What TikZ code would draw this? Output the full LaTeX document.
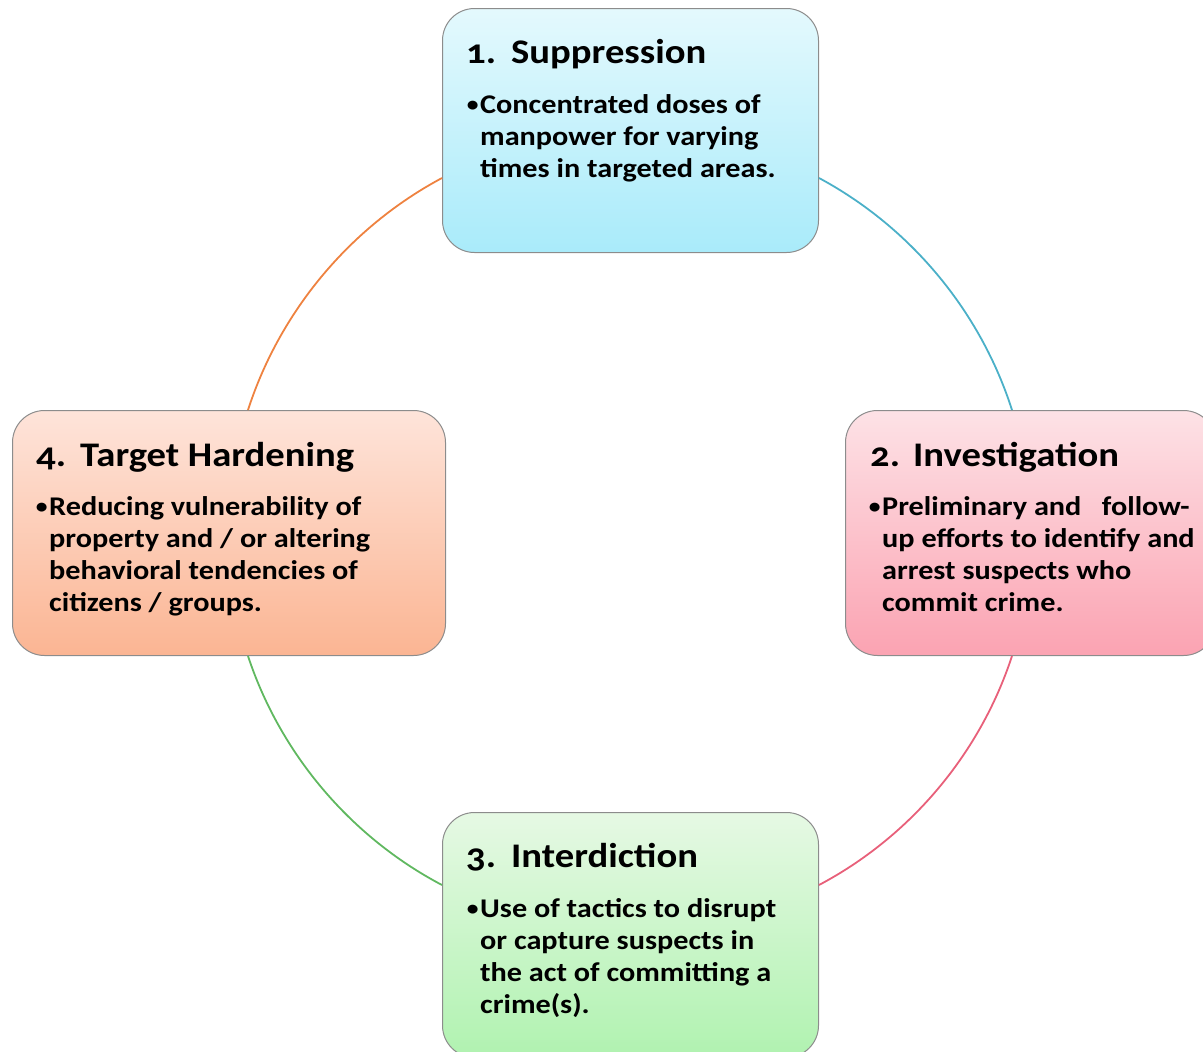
\documentclass[tikz,border=0pt]{standalone}
\usepackage{fontspec}
\setmainfont{Carlito}[FakeStretch=1.12]
\newfontfamily\oldnum{Carlito}[FakeStretch=1.12,Numbers=OldStyle]
\usetikzlibrary{calc}
\definecolor{cardline}{HTML}{8C8C8C}
\definecolor{supTop}{HTML}{E4F9FD}
\definecolor{supBot}{HTML}{A9EBFA}
\definecolor{invTop}{HTML}{FDE2E6}
\definecolor{invBot}{HTML}{FBA3B2}
\definecolor{tgtTop}{HTML}{FEE4DA}
\definecolor{tgtBot}{HTML}{FBB593}
\definecolor{intTop}{HTML}{E6F9E4}
\definecolor{intBot}{HTML}{B0F2B0}
\definecolor{arcOr}{HTML}{EE8240}
\definecolor{arcTe}{HTML}{4BB0C8}
\definecolor{arcRe}{HTML}{E8607A}
\definecolor{arcGr}{HTML}{60B860}
\newcommand{\mybul}{\llap{\raisebox{2pt}{\fontsize{21}{21}\selectfont •}\hspace{1.5pt}}}
\newcommand{\numlab}[2]{\makebox[#1][l]{\oldnum\bfseries #2}}
\begin{document}
\begin{tikzpicture}[x=1pt,y=1pt,
 card/.style={draw=cardline, line width=1pt, rounded corners=32pt, anchor=north west, inner sep=0pt},
 ttl/.style={anchor=base west, inner sep=0pt, font=\bfseries\fontsize{34.5}{40}\selectfont},
 txt/.style={anchor=base west, inner sep=0pt, align=left, font=\bfseries\fontsize{27}{32}\selectfont},
 link/.style={line width=1.8pt, looseness=0.88}]
\clip (0,0) rectangle (1203,-1052);
% boxes
\node[card, minimum width=376pt, minimum height=244pt, top color=supTop, bottom color=supBot] (sup) at (442,-8) {};
\node[card, minimum width=370pt, minimum height=245pt, top color=invTop, bottom color=invBot] (inv) at (845,-410) {};
\node[card, minimum width=376pt, minimum height=245pt, top color=intTop, bottom color=intBot] (int) at (442,-812) {};
\node[card, minimum width=433pt, minimum height=245pt, top color=tgtTop, bottom color=tgtBot] (tgt) at (12,-410) {};
% arc end points
\coordinate (a1) at ($(sup.north west)+(0,-170)$);
\coordinate (a2) at ($(tgt.north west)+(236,0)$);
\coordinate (b1) at ($(sup.north east)+(0,-170)$);
\coordinate (b2) at ($(inv.north west)+(167,0)$);
\coordinate (c1) at ($(inv.south west)+(167,0)$);
\coordinate (c2) at ($(int.north east)+(0,-73)$);
\coordinate (d1) at ($(tgt.south west)+(236,0)$);
\coordinate (d2) at ($(int.north west)+(0,-73)$);
\draw[link, arcOr] (a1) to[bend right=22] (a2);
\draw[link, arcTe] (b1) to[bend left=22] (b2);
\draw[link, arcRe] (c1) to[bend left=22] (c2);
\draw[link, arcGr] (d1) to[bend right=22] (d2);
% texts (body nodes anchored at the baseline of their last line)
\node[ttl] (supT) at ($(sup.north west)+(24,-55)$) {\numlab{45pt}{1.}Suppression};
\node[txt] (supB) at ($(sup.north west)+(38,-169)$) {\mybul Concentrated doses of\\manpower for varying\\times in targeted areas.};
\node[ttl] (invT) at ($(inv.north west)+(25,-56)$) {\numlab{43pt}{2.}Investigation};
\node[txt] (invB) at ($(inv.north west)+(37,-201)$) {\mybul Preliminary and \ \ follow-\\up efforts to identify and\\arrest suspects who\\commit crime.};
\node[ttl] (intT) at ($(int.north west)+(24,-55)$) {\numlab{45pt}{3.}Interdiction};
\node[txt] (intB) at ($(int.north west)+(38,-201)$) {\mybul Use of tactics to disrupt\\or capture suspects in\\the act of committing a\\crime(s).};
\node[ttl] (tgtT) at ($(tgt.north west)+(24,-56)$) {\numlab{44pt}{4.}Target Hardening};
\node[txt] (tgtB) at ($(tgt.north west)+(37,-201)$) {\mybul Reducing vulnerability of\\property and / or altering\\behavioral tendencies of\\citizens / groups.};
\end{tikzpicture}
\end{document}
